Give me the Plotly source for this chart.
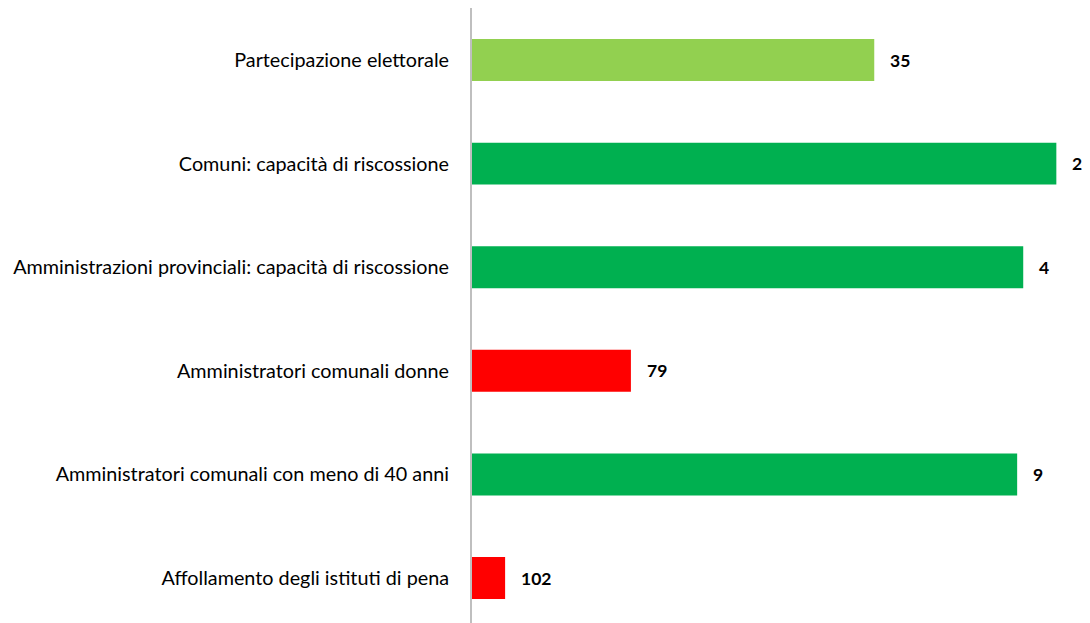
import plotly.graph_objects as go

categories = [
    "Partecipazione elettorale",
    "Comuni: capacità di riscossione",
    "Amministrazioni provinciali: capacità di riscossione",
    "Amministratori comunali donne",
    "Amministratori comunali con meno di 40 anni",
    "Affollamento degli istituti di pena",
]
values = [72.9, 105.9, 99.9, 28.8, 98.8, 6.0]
rank_labels = ["35", "2", "4", "79", "9", "102"]
colors = ["#92D050", "#00B050", "#00B050", "#FF0000", "#00B050", "#FF0000"]

FONT = "Lato, Open Sans, sans-serif"

fig = go.Figure(go.Bar(
    x=values, y=categories, orientation="h",
    marker=dict(color=colors, line=dict(width=0)),
    width=0.405, hoverinfo="skip",
))

for c, v, t in zip(categories, values, rank_labels):
    fig.add_annotation(x=v, y=c, text="<b>%s</b>" % t, showarrow=False,
                       xanchor="left", xshift=14,
                       font=dict(family=FONT, size=17.5, color="black"))

fig.update_layout(
    width=1090, height=623,
    margin=dict(l=464, r=8, t=0, b=8),
    paper_bgcolor="white", plot_bgcolor="white",
    showlegend=False,
    font=dict(family=FONT, size=19.8, color="black"),
    xaxis=dict(range=[0, 112], visible=False, showgrid=False, zeroline=False),
    yaxis=dict(range=[5.434, -0.502], showline=True, linecolor="#BFBFBF", linewidth=2,
               showgrid=False, ticks="", ticklabelstandoff=17,
               tickfont=dict(family=FONT, size=19.8, color="black")),
)

fig.write_html("out.html")
